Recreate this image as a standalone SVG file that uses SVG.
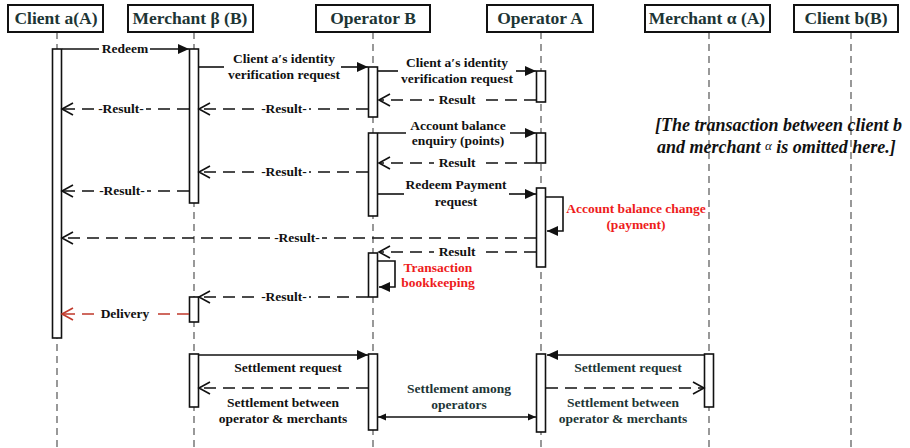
<svg xmlns="http://www.w3.org/2000/svg" width="910" height="448" viewBox="0 0 910 448" font-family="'Liberation Serif', 'Times New Roman', 'DejaVu Serif', serif">
<style>
text{font-family:'Liberation Serif','Times New Roman','DejaVu Serif',serif;font-weight:bold}
.hd{font-size:17.5px;fill:#1d3535;text-anchor:middle}
.hbox{fill:#fff;stroke:#111;stroke-width:2}
.life{stroke:#555;stroke-width:1.2;stroke-dasharray:7 5;fill:none}
.bar{fill:#fff;stroke:#111;stroke-width:1.6}
.lbl{font-size:13.5px;fill:#111;text-anchor:middle}
.red{font-size:13.5px;fill:#ee1c1c;text-anchor:middle}
.teal{font-size:13.5px;fill:#1d3535;text-anchor:middle}
.sol{stroke:#111;stroke-width:1.6;fill:none}
.das{stroke:#111;stroke-width:1.6;fill:none;stroke-dasharray:12 7}
.rdas{stroke:#c0392b;stroke-width:1.6;fill:none;stroke-dasharray:12 7}
.bg{fill:#fff}
.note{font-size:18px;font-style:italic;fill:#111}
</style>
<defs>
<marker id="fa" markerUnits="userSpaceOnUse" markerWidth="12" markerHeight="10" refX="11" refY="5" orient="auto"><path d="M0,0 L11,5 L0,10 z" fill="#111"/></marker>
<marker id="fs" markerUnits="userSpaceOnUse" markerWidth="9" markerHeight="8" refX="8" refY="4" orient="auto-start-reverse"><path d="M0,0.5 L8,4 L0,7.5 z" fill="#111"/></marker>
<marker id="oa" markerUnits="userSpaceOnUse" markerWidth="14" markerHeight="14" refX="12" refY="7" orient="auto"><path d="M1,1 L12,7 L1,13" fill="none" stroke="#111" stroke-width="1.6"/></marker>
<marker id="ora" markerUnits="userSpaceOnUse" markerWidth="14" markerHeight="14" refX="12" refY="7" orient="auto"><path d="M1,1 L12,7 L1,13" fill="none" stroke="#c0392b" stroke-width="1.6"/></marker>
</defs>
<rect width="910" height="448" fill="#fff"/>

<g id="lifelines">
<line class="life" x1="57" y1="32" x2="57" y2="448"/>
<line class="life" x1="194" y1="32" x2="194" y2="448"/>
<line class="life" x1="373" y1="32" x2="373" y2="448"/>
<line class="life" x1="541" y1="32" x2="541" y2="448"/>
<line class="life" x1="709" y1="32" x2="709" y2="448"/>
<line class="life" x1="851" y1="32" x2="851" y2="448"/>
</g>

<g id="client-a">
<rect class="hbox" x="8" y="5" width="95" height="27"/>
<text class="hd" x="56" y="24">Client a(A)</text>
<rect class="bar" x="52.5" y="49" width="9" height="289"/>
</g>
<g id="merchant-beta">
<rect class="hbox" x="128" y="5" width="125" height="27"/>
<text class="hd" x="190" y="24">Merchant β (B)</text>
<rect class="bar" x="189.5" y="49" width="9" height="154"/>
<rect class="bar" x="189.5" y="297" width="9" height="25"/>
<rect class="bar" x="189.5" y="354" width="9" height="53"/>
</g>
<g id="operator-b">
<rect class="hbox" x="316" y="5" width="114" height="27"/>
<text class="hd" x="373" y="24">Operator B</text>
<rect class="bar" x="368.5" y="67" width="9" height="50"/>
<rect class="bar" x="368.5" y="133" width="9" height="83"/>
<rect class="bar" x="368.5" y="253" width="9" height="44"/>
<rect class="bar" x="368.5" y="354" width="9" height="76"/>
</g>
<g id="operator-a">
<rect class="hbox" x="487" y="5" width="106" height="27"/>
<text class="hd" x="540" y="24">Operator A</text>
<rect class="bar" x="536.5" y="71" width="9" height="31"/>
<rect class="bar" x="536.5" y="133" width="9" height="30"/>
<rect class="bar" x="536.5" y="188" width="9" height="79"/>
<rect class="bar" x="536.5" y="354" width="9" height="78"/>
</g>
<g id="merchant-alpha">
<rect class="hbox" x="645" y="5" width="125" height="27"/>
<text class="hd" x="707" y="24">Merchant α (A)</text>
<rect class="bar" x="704.5" y="354" width="9" height="53"/>
</g>
<g id="client-b">
<rect class="hbox" x="794" y="5" width="104" height="27"/>
<text class="hd" x="846" y="24">Client b(B)</text>
</g>

<g id="connectors">
<line class="sol" x1="62" y1="49" x2="189" y2="49" marker-end="url(#fa)"/>
<rect class="bg" x="99" y="42" width="51" height="14"/>
<text class="lbl" x="125" y="53">Redeem</text>
<line class="sol" x1="199" y1="67" x2="224" y2="67"/>
<line class="sol" x1="341" y1="67" x2="368" y2="67" marker-end="url(#fa)"/>
<text class="lbl" x="284" y="63">Client a′s identity</text>
<text class="lbl" x="284" y="79">verification request</text>
<line class="sol" x1="378" y1="71" x2="398" y2="71"/>
<line class="sol" x1="516" y1="71" x2="536" y2="71" marker-end="url(#fa)"/>
<text class="lbl" x="457" y="67">Client a′s identity</text>
<text class="lbl" x="457" y="83">verification request</text>
<line class="das" x1="536" y1="100" x2="379" y2="100" marker-end="url(#oa)"/>
<rect class="bg" x="434" y="93" width="46" height="14"/>
<text class="lbl" x="457" y="104">Result</text>
<line class="das" x1="368" y1="109" x2="199" y2="109" marker-end="url(#oa)"/>
<rect class="bg" x="259" y="102" width="50" height="14"/>
<text class="lbl" x="284" y="113">-Result-</text>
<line class="das" x1="189" y1="109" x2="62" y2="109" marker-end="url(#oa)"/>
<rect class="bg" x="96" y="102" width="50" height="14"/>
<text class="lbl" x="121" y="113">-Result-</text>
<line class="sol" x1="378" y1="133" x2="536" y2="133" marker-end="url(#fa)"/>
<rect class="bg" x="406" y="118" width="104" height="30"/>
<text class="lbl" x="458" y="130">Account balance</text>
<text class="lbl" x="458" y="145">enquiry (points)</text>
<line class="das" x1="536" y1="163" x2="379" y2="163" marker-end="url(#oa)"/>
<rect class="bg" x="434" y="156" width="46" height="14"/>
<text class="lbl" x="457" y="167">Result</text>
<line class="das" x1="368" y1="172" x2="199" y2="172" marker-end="url(#oa)"/>
<rect class="bg" x="259" y="165" width="50" height="14"/>
<text class="lbl" x="284" y="176">-Result-</text>
<line class="das" x1="189" y1="191" x2="62" y2="191" marker-end="url(#oa)"/>
<rect class="bg" x="97" y="184" width="50" height="14"/>
<text class="lbl" x="122" y="195">-Result-</text>
<line class="sol" x1="378" y1="194" x2="404" y2="194"/>
<line class="sol" x1="509" y1="194" x2="536" y2="194" marker-end="url(#fa)"/>
<text class="lbl" x="456" y="189">Redeem Payment</text>
<text class="lbl" x="456" y="206">request</text>
<polyline class="sol" points="546,197 563,197 563,231 547,231" marker-end="url(#fa)"/>
<text class="red" x="636" y="213">Account balance change</text>
<text class="red" x="636" y="229">(payment)</text>
<line class="das" x1="536" y1="238" x2="62" y2="238" marker-end="url(#oa)"/>
<rect class="bg" x="272" y="231" width="50" height="14"/>
<text class="lbl" x="297" y="242">-Result-</text>
<line class="das" x1="536" y1="252" x2="379" y2="252" marker-end="url(#oa)"/>
<rect class="bg" x="434" y="245" width="46" height="14"/>
<text class="lbl" x="457" y="256">Result</text>
<polyline class="sol" points="378,261 395,261 395,287 379,287" marker-end="url(#fa)"/>
<text class="red" x="438" y="272">Transaction</text>
<text class="red" x="438" y="287">bookkeeping</text>
<line class="das" x1="368" y1="297" x2="199" y2="297" marker-end="url(#oa)"/>
<rect class="bg" x="259" y="290" width="50" height="14"/>
<text class="lbl" x="284" y="301">-Result-</text>
<line class="rdas" x1="189" y1="314" x2="62" y2="314" marker-end="url(#ora)"/>
<rect class="bg" x="99" y="307" width="52" height="14"/>
<text class="lbl" x="125" y="318">Delivery</text>
<line class="sol" x1="199" y1="355" x2="368" y2="355" marker-end="url(#fa)"/>
<text class="lbl" x="288" y="372">Settlement request</text>
<line class="das" x1="368" y1="388" x2="199" y2="388" marker-end="url(#oa)"/>
<text class="lbl" x="283" y="407">Settlement between</text>
<text class="lbl" x="283" y="423">operator &amp; merchants</text>
<line class="sol" x1="378" y1="417" x2="536" y2="417" marker-start="url(#fs)" marker-end="url(#fs)"/>
<text class="teal" x="459" y="393">Settlement among</text>
<text class="teal" x="459" y="409">operators</text>
<line class="sol" x1="704" y1="355" x2="547" y2="355" marker-end="url(#fa)"/>
<text class="teal" x="628" y="372">Settlement request</text>
<line class="das" x1="546" y1="388" x2="704" y2="388" marker-end="url(#oa)"/>
<text class="teal" x="623" y="407">Settlement between</text>
<text class="teal" x="623" y="423">operator &amp; merchants</text>
</g>

<g id="note">
<text class="note" x="655" y="131">[The transaction between client b</text>
<text class="note" x="657" y="153">and merchant <tspan font-weight="normal" font-size="13" dy="-3">α</tspan><tspan dy="3"> is omitted here.]</tspan></text>
</g>
</svg>
